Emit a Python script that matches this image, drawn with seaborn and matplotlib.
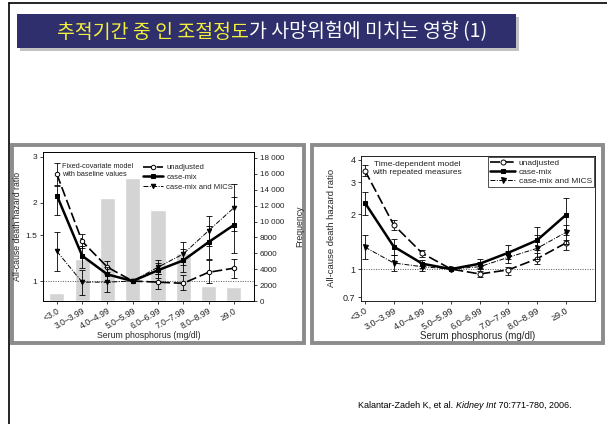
import numpy as np
import pandas as pd
import seaborn as sns
import matplotlib.pyplot as plt
from matplotlib.patches import Rectangle

''' DATA '''
categories = ['<3.0', '3.0–3.99', '4.0–4.99', '5.0–5.99',
              '6.0–6.99', '7.0–7.99', '8.0–8.99', '≥9.0']
frequency = [1000, 5300, 13000, 15500, 11400, 6100, 1900, 1800]
freq_ticks = [0, 2000, 4000, 6000, 8000, 10000, 12000, 14000, 16000, 18000]
freq_labels = ['0', '2000', '4000', '6000', '8000', '10 000', '12 000',
               '14 000', '16 000', '18 000']

# fixed-covariate model (left panel)
fix_unadj = [2.57, 1.42, 1.13, 1.0, 0.99, 0.98, 1.08, 1.12]
fix_unadj_lo = [2.34, 1.34, 1.08, 1.0, 0.93, 0.92, 0.98, 1.03]
fix_unadj_hi = [2.83, 1.51, 1.19, 1.0, 1.06, 1.05, 1.20, 1.22]
fix_cmix = [2.13, 1.25, 1.06, 1.0, 1.10, 1.20, 1.41, 1.64]
fix_cmix_lo = [1.79, 1.12, 0.99, 1.0, 1.03, 1.08, 1.22, 1.28]
fix_cmix_hi = [2.32, 1.36, 1.13, 1.0, 1.17, 1.33, 1.62, 2.10]
fix_mics = [1.30, 0.99, 0.99, 1.0, 1.13, 1.27, 1.56, 1.91]
fix_mics_lo = [1.09, 0.88, 0.91, 1.0, 1.06, 1.15, 1.36, 1.56]
fix_mics_hi = [1.54, 1.10, 1.06, 1.0, 1.20, 1.41, 1.78, 2.35]

# time-dependent model (right panel)
td_unadj = [3.47, 1.75, 1.22, 1.0, 0.94, 0.99, 1.14, 1.39]
td_unadj_lo = [3.23, 1.65, 1.17, 1.0, 0.90, 0.93, 1.06, 1.27]
td_unadj_hi = [3.74, 1.85, 1.27, 1.0, 0.97, 1.03, 1.22, 1.45]
td_cmix = [2.31, 1.33, 1.07, 1.0, 1.07, 1.23, 1.44, 1.98]
td_cmix_lo = [1.99, 1.20, 1.02, 1.0, 1.02, 1.14, 1.28, 1.54]
td_cmix_hi = [2.65, 1.46, 1.12, 1.0, 1.14, 1.35, 1.70, 2.45]
td_mics = [1.32, 1.08, 1.03, 1.0, 1.03, 1.16, 1.30, 1.59]
td_mics_lo = [1.14, 0.97, 0.97, 1.0, 1.00, 1.08, 1.14, 1.38]
td_mics_hi = [1.54, 1.20, 1.08, 1.0, 1.10, 1.26, 1.53, 1.75]

W, H = 607, 424

def fx(px):
    return px / W

def fy(py):
    return 1 - py / H

def frect(x0, y0, x1, y1, **kw):
    return Rectangle((fx(x0), fy(y1)), (x1 - x0) / W, (y1 - y0) / H,
                     transform=fig.transFigure, **kw)

sns.set_theme(style='white')
plt.rcParams['font.family'] = ['Liberation Sans', 'DejaVu Sans']

fig = plt.figure(figsize=(W / 100, H / 100), dpi=100)

''' SLIDE DECORATION '''
fig.add_artist(plt.Line2D([fx(8.5), fx(8.5)], [0, fy(3)], color='black', lw=1.2,
                          transform=fig.transFigure))
fig.add_artist(plt.Line2D([fx(8.5), 1], [fy(3), fy(3)], color='black', lw=1.2,
                          transform=fig.transFigure))
fig.add_artist(frect(20, 17, 519, 51, color='#9a9a9a', alpha=0.6, lw=0))
fig.add_artist(frect(17, 14, 516, 48, color='#2e2f6c', lw=0))

# panel frames (beneath the axes and their labels)
fig.add_artist(frect(12, 145, 304, 343, fill=False, edgecolor='#8c8c8c', lw=2.8,
                     zorder=-1))
fig.add_artist(frect(312, 145, 603, 343, fill=False, edgecolor='#8c8c8c', lw=2.8,
                     zorder=-1))

title_parts = [('추적기간 중 인 조절정도', '#f3ef3b'), ('가 사망위험에 미치는 영향 (1)', 'white')]
fig.canvas.draw()
renderer = fig.canvas.get_renderer()
x_pos = fx(57)
for txt, col in title_parts:
    t = fig.text(x_pos, fy(32), txt, color=col, fontsize=14, va='center', ha='left',
                 fontweight='medium', family=['Noto Sans CJK KR', 'DejaVu Sans'])
    bb = t.get_window_extent(renderer)
    x_pos = bb.x1 / W


def style_axes(ax):
    for s in ax.spines.values():
        s.set_color('black')
        s.set_linewidth(0.6)


def draw_lines(ax, vals, los, his, size):
    pos = np.arange(len(categories))
    specs = [
        ('unadjusted', vals[0], los[0], his[0],
         dict(linestyle=(0, (6, 2.2)), lw=1.2, marker='o', markersize=size,
              markerfacecolor='white', markeredgecolor='black', markeredgewidth=0.7)),
        ('case-mix', vals[1], los[1], his[1],
         dict(linestyle='-', lw=1.8, marker='s', markersize=size * 0.9,
              markerfacecolor='black', markeredgecolor='black')),
        ('case-mix and MICS', vals[2], los[2], his[2],
         dict(linestyle=(0, (5, 1.5, 1, 1.5)), lw=0.7, marker='v', markersize=size,
              markerfacecolor='black', markeredgecolor='black')),
    ]
    for name, v, lo, hi, kw in specs:
        v = np.array(v)
        yerr = [v - np.array(lo), np.array(hi) - v]
        ax.errorbar(pos, v, yerr=yerr, fmt='none', ecolor='black', elinewidth=0.6,
                    capsize=2, capthick=0.6)
        sns.lineplot(x=pos, y=v, ax=ax, color='black', label=name, **kw)


''' LEFT PANEL: fixed-covariate model '''
ax1 = fig.add_axes([fx(43), fy(301), 211 / W, 149 / H])
ax1b = ax1.twinx()
sns.barplot(x=categories, y=frequency, ax=ax1b, color='#d4d4d4', width=0.6,
            saturation=1)
ax1.set_zorder(ax1b.get_zorder() + 1)
ax1.patch.set_visible(False)

ax1.set_yscale('log')
draw_lines(ax1, [fix_unadj, fix_cmix, fix_mics],
           [fix_unadj_lo, fix_cmix_lo, fix_mics_lo],
           [fix_unadj_hi, fix_cmix_hi, fix_mics_hi], 3.2)
ax1.axhline(1, color='#555555', lw=0.7, ls=(0, (1, 1.5)), zorder=0)
ax1.set_ylim(0.838, 3.13)
ax1.set_xlim(-0.55, 7.8)
ax1.set_yticks([1, 1.5, 2, 3])
ax1.set_yticklabels(['1', '1.5', '2', '3'])
ax1.yaxis.set_minor_locator(plt.NullLocator())
ax1.set_xticks(range(len(categories)))
ax1.set_xticklabels(categories, rotation=30, ha='right', rotation_mode='anchor')
ax1.tick_params(axis='x', labelsize=6.2, length=2, width=0.6, pad=2,
                bottom=True, colors='#222222')
ax1.tick_params(axis='y', labelsize=6, length=2, width=0.6, pad=2,
                left=True, colors='#222222')
ax1.set_ylabel('All-cause death hazard ratio', fontsize=6.3)
ax1.yaxis.set_label_coords(-0.098, 0.5)
ax1.set_xlabel('Serum phosphorus (mg/dl)', fontsize=6.3)
ax1.xaxis.set_label_coords(0.5, -0.2)

ax1b.set_ylim(0, 18750)
ax1b.set_yticks(freq_ticks)
ax1b.set_yticklabels(freq_labels)
ax1b.tick_params(axis='y', labelsize=5.8, length=2, width=0.6, pad=2, right=True,
                 colors='#222222')
ax1b.set_ylabel('Frequency', fontsize=6.3)
ax1b.yaxis.set_label_coords(1.195, 0.5)
ax1b.set_xlim(-0.55, 7.8)
style_axes(ax1)
style_axes(ax1b)

ax1.text(0.09, 0.925, 'Fixed-covariate model\nwith baseline values', transform=ax1.transAxes,
         fontsize=5.2, va='top', ha='left', linespacing=1.2, color='#222222')
ax1.legend(loc='upper left', bbox_to_anchor=(0.45, 0.95), frameon=False, fontsize=5.5,
           handlelength=2.7, handletextpad=0.4, labelspacing=0.3, borderaxespad=0.2)

''' RIGHT PANEL: time-dependent model '''
ax2 = fig.add_axes([fx(361), fy(300.7), 234 / W, 145 / H])
ax2.set_yscale('log')
draw_lines(ax2, [td_unadj, td_cmix, td_mics],
           [td_unadj_lo, td_cmix_lo, td_mics_lo],
           [td_unadj_hi, td_cmix_hi, td_mics_hi], 3.6)
ax2.axhline(1, color='#555555', lw=0.7, ls=(0, (1, 1.5)), zorder=0)
ax2.set_ylim(0.67, 4.2)
ax2.set_xlim(-0.14, 8.02)
ax2.set_yticks([0.7, 1, 2, 3, 4])
ax2.set_yticklabels(['0.7', '1', '2', '3', '4'])
ax2.yaxis.set_minor_locator(plt.NullLocator())
ax2.set_xticks(range(len(categories)))
ax2.set_xticklabels(categories, rotation=30, ha='right', rotation_mode='anchor')
ax2.tick_params(axis='x', labelsize=6.6, length=2, width=0.6, pad=2,
                bottom=True, colors='#222222')
ax2.tick_params(axis='y', labelsize=6.5, length=2, width=0.6, pad=2,
                left=True, colors='#222222')
ax2.set_ylabel('All-cause death hazard ratio', fontsize=6.8)
ax2.yaxis.set_label_coords(-0.107, 0.5)
ax2.set_xlabel('Serum phosphorus (mg/dl)', fontsize=7)
ax2.xaxis.set_label_coords(0.5, -0.21)
style_axes(ax2)

ax2.text(0.24, 0.96, 'Time-dependent model\nwith repeated measures', transform=ax2.transAxes,
         fontsize=6, va='top', ha='center', linespacing=1.2, color='#222222')
leg = ax2.legend(loc='upper right', frameon=True, fancybox=False, fontsize=6.0,
                 handlelength=3.0, handletextpad=0.4, labelspacing=0.15,
                 borderaxespad=0.15, borderpad=0.25)
leg.get_frame().set_edgecolor('black')
leg.get_frame().set_linewidth(0.6)

''' CITATION '''
cite_parts = [('Kalantar-Zadeh K, et al. ', 'normal'), ('Kidney Int', 'italic'),
              (' 70:771-780, 2006.', 'normal')]
fig.canvas.draw()
x_pos = fx(358)
for txt, st in cite_parts:
    t = fig.text(x_pos, fy(405), txt, fontsize=6.5, style=st, va='center', ha='left',
                 color='black')
    bb = t.get_window_extent(renderer)
    x_pos = bb.x1 / W

fig.savefig('out.png', dpi=100)
